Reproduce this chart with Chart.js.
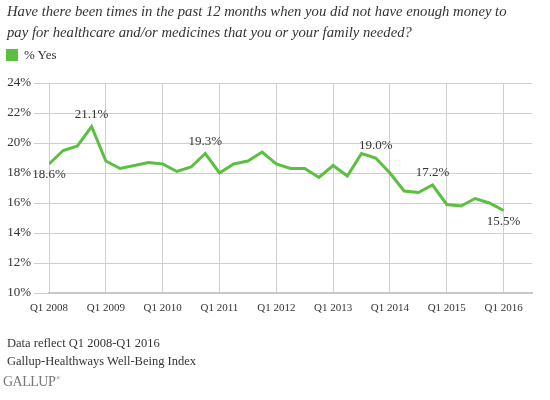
<!DOCTYPE html>
<html>
<head>
<meta charset="utf-8">
<script src="https://cdn.jsdelivr.net/npm/chart.js@4.4.1/dist/chart.umd.min.js"></script>
<style>
  body { margin: 0; background: #fff; font-family: 'Liberation Serif', serif; color: #333; }
  #wrap { position: relative; width: 550px; height: 400px; overflow: hidden; }
  #chart { position: absolute; left: 0; top: 0; }
  .title { position: absolute; left: 7px; top: 1px; font-style: italic; font-size: 14.7px; line-height: 21px; }
  .legend { position: absolute; left: 6px; top: 48px; font-size: 13px; line-height: 14px; }
  .legend span.box { display: inline-block; width: 12px; height: 12px; background: #5cbf42; vertical-align: -2px; margin-right: 6px; }
  .footer { position: absolute; left: 7px; top: 334px; font-size: 12.5px; line-height: 18px; }
  .logo { position: absolute; left: 3px; top: 374px; font-size: 14px; color: #777; letter-spacing: -0.5px; }
</style>
</head>
<body>
<div id="wrap">
  <canvas id="chart" width="550" height="400"></canvas>
  <div class="title">Have there been times in the past 12 months when you did not have enough money to<br>pay for healthcare and/or medicines that you or your family needed?</div>
  <div class="legend"><span class="box"></span>% Yes</div>
  <div class="footer">Data reflect Q1 2008-Q1 2016<br>Gallup-Healthways Well-Being Index</div>
  <div class="logo">GALLUP<sup style="font-size:7px">&#174;</sup></div>
</div>
<script>
// Etiquetas do eixo X (um por ano, a cada 4 trimestres)
const yearLabels = ['Q1 2008', 'Q1 2009', 'Q1 2010', 'Q1 2011', 'Q1 2012',
  'Q1 2013', 'Q1 2014', 'Q1 2015', 'Q1 2016'];

// % Yes por trimestre, Q1 2008 .. Q1 2016
const yesValues = [
  18.6, 19.5, 19.8, 21.1,
  18.8, 18.3, 18.5, 18.7,
  18.6, 18.1, 18.4, 19.3,
  18.0, 18.6, 18.8, 19.4,
  18.6, 18.3, 18.3, 17.7,
  18.5, 17.8, 19.3, 19.0,
  18.0, 16.8, 16.7, 17.2,
  15.9, 15.8, 16.3, 16.0,
  15.5
];

// Trimestres com rotulo de valor
const labelledQuarters = [0, 3, 11, 23, 27, 32];

const points = yesValues.map((v, i) => ({ x: i, y: v }));

// Plugin simples para os rotulos de valor
const valueLabels = {
  id: 'valueLabels',
  afterDatasetsDraw(chart) {
    const ctx = chart.ctx;
    const meta = chart.getDatasetMeta(0);
    const last = yesValues.length - 1;
    ctx.save();
    ctx.font = "13px 'Liberation Serif', serif";
    ctx.fillStyle = '#333';
    ctx.textAlign = 'center';
    ctx.textBaseline = 'middle';
    labelledQuarters.forEach(i => {
      const el = meta.data[i];
      const below = (i === 0 || i === last);
      ctx.fillText(yesValues[i].toFixed(1) + '%', el.x, el.y + (below ? 11 : -12));
    });
    ctx.restore();
  }
};

const ctx = document.getElementById('chart').getContext('2d');
new Chart(ctx, {
  type: 'line',
  data: {
    datasets: [{
      label: '% Yes',
      data: points,
      borderColor: '#5cbf42',
      backgroundColor: '#5cbf42',
      borderWidth: 3,
      pointRadius: 0,
      tension: 0,
      fill: false
    }]
  },
  options: {
    responsive: false,
    animation: false,
    layout: { padding: { left: 6, right: 18, top: 83, bottom: 77 } },
    plugins: {
      legend: { display: false },
      tooltip: { enabled: false }
    },
    scales: {
      x: {
        type: 'linear',
        min: 0,
        max: 34,
        afterFit: function(scale) { scale.height = 30; },
        grid: { color: '#ccd0cc', lineWidth: 1, drawTicks: false },
        border: { color: '#c8c8c8', width: 2 },
        ticks: {
          stepSize: 4,
          includeBounds: false,
          maxRotation: 0,
          autoSkip: false,
          padding: 9,
          color: '#333',
          font: { family: "'Liberation Serif', serif", size: 11 },
          callback: function(value) {
            return yearLabels[value / 4];
          }
        }
      },
      y: {
        min: 10,
        max: 24,
        afterFit: function(scale) { scale.width = 43; },
        grid: { color: '#ccd0cc', lineWidth: 1, tickLength: 15 },
        border: { display: false },
        ticks: {
          stepSize: 2,
          padding: 3,
          color: '#333',
          font: { family: "'Liberation Serif', serif", size: 13 },
          callback: function(value) {
            return value + '%';
          }
        }
      }
    }
  },
  plugins: [valueLabels]
});
</script>
</body>
</html>
